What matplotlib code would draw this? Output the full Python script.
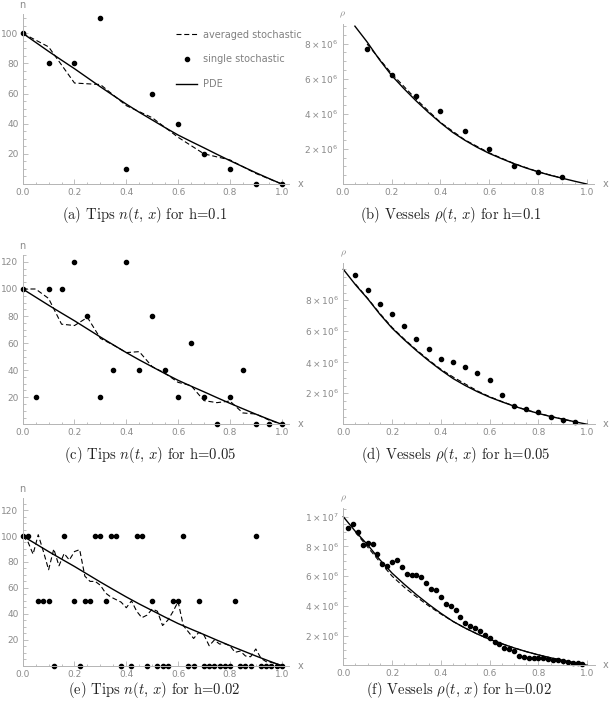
import matplotlib
matplotlib.use("Agg")
import matplotlib.pyplot as plt
from matplotlib.ticker import FixedLocator, FuncFormatter

plt.rcParams['mathtext.fontset'] = 'dejavusans'

# ---------------- data ----------------
pde_x = [0.0, 0.05, 0.1, 0.15, 0.2, 0.25, 0.3, 0.35, 0.4, 0.45, 0.5,
         0.55, 0.6, 0.65, 0.7, 0.75, 0.8, 0.85, 0.9, 0.95, 1.0]
pde_n = [100, 94, 88, 82.2, 76.5, 70.5, 64.5, 58.7, 53, 47.6, 42.5,
         37.4, 32.5, 28.2, 24, 19.7, 15.5, 11.5, 7.5, 3.7, 0]
pde_rho = [10.0e6, 9.0e6, 8.1e6, 7.1e6, 6.2e6, 5.45e6, 4.75e6, 4.1e6, 3.5e6, 2.95e6, 2.5e6,
           2.1e6, 1.75e6, 1.45e6, 1.17e6, 0.92e6, 0.7e6, 0.5e6, 0.33e6, 0.16e6, 0.0]

# (a) tips, h = 0.1
a_x = [0.0, 0.1, 0.2, 0.3, 0.4, 0.5, 0.6, 0.7, 0.8, 0.9, 1.0]
a_avg = [100, 91, 67, 66, 52, 44, 31, 20, 16, 7, 0]
a_single = [100, 80, 80, 110, 10, 60, 40, 20, 10, 0, 0]

# (b) vessels, h = 0.1
b_x = [0.1, 0.2, 0.3, 0.4, 0.5, 0.6, 0.7, 0.8, 0.9]
b_avg = [7.98e6, 6.3e6, 4.85e6, 3.52e6, 2.52e6, 1.78e6, 1.18e6, 0.7e6, 0.33e6]
b_single = [7.68e6, 6.23e6, 5.04e6, 4.16e6, 3.02e6, 1.98e6, 1.05e6, 0.67e6, 0.42e6]

# (c) tips, h = 0.05
c_x = [0.0, 0.05, 0.1, 0.15, 0.2, 0.25, 0.3, 0.35, 0.4, 0.45, 0.5,
       0.55, 0.6, 0.65, 0.7, 0.75, 0.8, 0.85, 0.9, 0.95, 1.0]
c_avg = [100, 100, 93, 74, 73, 79, 63.5, 58.6, 53, 53.7, 42.6,
         37.7, 31, 28.6, 17.5, 16, 17.2, 8.4, 7.6, 3.2, 0]
c_single = [100, 20, 100, 100, 120, 80, 20, 40, 120, 40, 80,
            40, 20, 60, 20, 0, 20, 40, 0, 0, 0]

# (d) vessels, h = 0.05
d_x = [0.05, 0.1, 0.15, 0.2, 0.25, 0.3, 0.35, 0.4, 0.45, 0.5,
       0.55, 0.6, 0.65, 0.7, 0.75, 0.8, 0.85, 0.9, 0.95]
d_avg = [9.05e6, 8.12e6, 7.15e6, 6.25e6, 5.5e6, 4.8e6, 4.15e6, 3.55e6, 3.05e6, 2.6e6,
         2.15e6, 1.78e6, 1.47e6, 1.18e6, 0.93e6, 0.71e6, 0.51e6, 0.33e6, 0.16e6]
d_single = [9.63e6, 8.65e6, 7.76e6, 7.10e6, 6.34e6, 5.53e6, 4.84e6, 4.22e6, 4.0e6, 3.72e6,
            3.31e6, 2.84e6, 1.89e6, 1.18e6, 0.99e6, 0.77e6, 0.45e6, 0.28e6, 0.15e6]

# (e) tips, h = 0.02
e_x = [0.00, 0.02, 0.04, 0.06, 0.08, 0.10, 0.12, 0.14, 0.16, 0.18,
       0.20, 0.22, 0.24, 0.26, 0.28, 0.30, 0.32, 0.34, 0.36, 0.38,
       0.40, 0.42, 0.44, 0.46, 0.48, 0.50, 0.52, 0.54, 0.56, 0.58,
       0.60, 0.62, 0.64, 0.66, 0.68, 0.70, 0.72, 0.74, 0.76, 0.78,
       0.80, 0.82, 0.84, 0.86, 0.88, 0.90, 0.92, 0.94, 0.96, 0.98, 1.00]
e_avg = [100, 95.6, 86, 101, 88, 74, 90, 77, 86.5, 81.5,
         88, 89.5, 69, 65, 65, 62, 56, 53, 51, 49,
         44.7, 50, 42, 37, 39, 43.7, 42, 31, 35, 41.6,
         49.4, 31, 26, 21, 25.7, 23.6, 15.4, 19.8, 16.7, 17,
         15.4, 10.3, 11.3, 7.5, 6.9, 12.9, 5.7, 3.1, 2.6, 1.5, 0]
e_single = [100, 100, 150, 50, 50, 50, 0, 150, 100, 150,
            50, 0, 50, 50, 100, 100, 50, 100, 100, 0,
            150, 0, 100, 100, 0, 50, 0, 0, 0, 50,
            50, 100, 0, 0, 50, 0, 0, 0, 0, 0,
            0, 50, 0, 0, 0, 100, 0, 0, 0, 0, 0]

# (f) vessels, h = 0.02
f_x = [0.02, 0.04, 0.06, 0.08, 0.10, 0.12, 0.14, 0.16, 0.18, 0.20,
       0.22, 0.24, 0.26, 0.28, 0.30, 0.32, 0.34, 0.36, 0.38, 0.40,
       0.42, 0.44, 0.46, 0.48, 0.50, 0.52, 0.54, 0.56, 0.58, 0.60,
       0.62, 0.64, 0.66, 0.68, 0.70, 0.72, 0.74, 0.76, 0.78, 0.80,
       0.82, 0.84, 0.86, 0.88, 0.90, 0.92, 0.94, 0.96, 0.98]
f_single = [9.25e6, 9.52e6, 8.96e6, 8.11e6, 8.25e6, 8.16e6, 7.46e6, 6.84e6, 6.70e6, 6.95e6,
            7.11e6, 6.59e6, 6.17e6, 6.06e6, 6.06e6, 5.97e6, 5.54e6, 5.12e6, 5.05e6, 4.58e6,
            4.13e6, 4.0e6, 3.69e6, 3.28e6, 2.88e6, 2.66e6, 2.50e6, 2.32e6, 2.06e6, 1.81e6,
            1.59e6, 1.41e6, 1.14e6, 1.07e6, 0.95e6, 0.61e6, 0.57e6, 0.52e6, 0.48e6, 0.48e6,
            0.52e6, 0.45e6, 0.39e6, 0.34e6, 0.27e6, 0.23e6, 0.18e6, 0.14e6, 0.09e6]
f_avg_x = [0.05, 0.1, 0.15, 0.2, 0.25, 0.3, 0.35, 0.4, 0.45, 0.5,
           0.55, 0.6, 0.65, 0.7, 0.75, 0.8, 0.85, 0.9, 0.95]
f_avg = [8.95e6, 7.95e6, 6.95e6, 6.0e6, 5.25e6, 4.6e6, 4.0e6, 3.45e6, 2.95e6, 2.5e6,
         2.1e6, 1.75e6, 1.45e6, 1.17e6, 0.92e6, 0.7e6, 0.5e6, 0.33e6, 0.16e6]

captions = [
    r'(a) Tips $n(t,\,x)$ for h=0.1',
    r'(b) Vessels $\rho(t,\,x)$ for h=0.1',
    r'(c) Tips $n(t,\,x)$ for h=0.05',
    r'(d) Vessels $\rho(t,\,x)$ for h=0.05',
    r'(e) Tips $n(t,\,x)$ for h=0.02',
    r'(f) Vessels $\rho(t,\,x)$ for h=0.02',
]

# ---------------- figure ----------------
W, H = 612, 710
fig = plt.figure(figsize=(W / 100, H / 100), dpi=100)

AX_COLOR = '#b4b4b4'
TXT_COLOR = '#8a8a8a'


def make_axes(px_x0, px_x1, px_y0, px_yref, yref, xlim, ylim):
    sx = px_x1 - px_x0
    sy = (px_y0 - px_yref) / yref
    left = px_x0 + xlim[0] * sx
    right = px_x0 + xlim[1] * sx
    bot = px_y0 - ylim[0] * sy
    top = px_y0 - ylim[1] * sy
    ax = fig.add_axes([left / W, (H - bot) / H, (right - left) / W, (bot - top) / H])
    ax.set_xlim(*xlim)
    ax.set_ylim(*ylim)
    for s in ('top', 'right'):
        ax.spines[s].set_visible(False)
    ax.spines['left'].set_position(('data', 0))
    ax.spines['bottom'].set_position(('data', 0))
    ax.spines['left'].set_bounds(0, ylim[1])
    ax.spines['bottom'].set_bounds(0, xlim[1])
    for s in ('left', 'bottom'):
        ax.spines[s].set_color(AX_COLOR)
        ax.spines[s].set_linewidth(0.7)
    ax.patch.set_visible(False)
    ax.xaxis.set_major_locator(FixedLocator([0.0, 0.2, 0.4, 0.6, 0.8, 1.0]))
    ax.xaxis.set_minor_locator(FixedLocator([i * 0.05 for i in range(21)]))
    ax.xaxis.set_major_formatter(FuncFormatter(lambda v, p: '%.1f' % v))
    ax.tick_params(which='both', direction='in', color=AX_COLOR, width=0.6,
                   labelcolor=TXT_COLOR, labelsize=6.5)
    ax.tick_params(which='major', length=3.5, pad=3)
    ax.tick_params(which='minor', length=1.8)
    ax.annotate('x', xy=(xlim[1], 0), xytext=(6, 0), textcoords='offset points',
                ha='left', va='center', color=TXT_COLOR, fontsize=7)
    return ax


def sci(v, p):
    if v <= 0:
        return ''
    e = 6 if v < 9.5e6 else 7
    m = v / 10 ** e
    return r'$%d\times10^{%d}$' % (round(m), e)


def draw(ax, xs, avg, single, px, py, avg_x=None):
    if avg_x is None:
        avg_x = xs
    l1, = ax.plot(avg_x, avg, color='k', lw=0.8, ls=(0, (4.5, 2.5)))
    l2, = ax.plot(xs, single, 'o', color='k', ms=3.0, mec='k')
    l3, = ax.plot(px, py, color='k', lw=1.0)
    return l1, l2, l3


def tips_axes(ax, ytop, majors):
    ax.yaxis.set_major_locator(FixedLocator(majors))
    ax.yaxis.set_minor_locator(FixedLocator(list(range(0, int(ytop) + 1, 5))))
    ax.yaxis.set_major_formatter(FuncFormatter(lambda v, p: '%d' % v))
    ax.annotate('n', xy=(0, ytop), xytext=(0, 3), textcoords='offset points',
                ha='center', va='bottom', color=TXT_COLOR, fontsize=7)


def vessel_axes(ax, ytop, majors):
    ax.yaxis.set_major_locator(FixedLocator(majors))
    ax.yaxis.set_minor_locator(FixedLocator([i * 0.5e6 for i in range(int(ytop / 0.5e6) + 1)]))
    ax.yaxis.set_major_formatter(FuncFormatter(sci))
    ax.annotate(r'$\rho$', xy=(0, ytop), xytext=(0, 3), textcoords='offset points',
                ha='center', va='bottom', color=TXT_COLOR, fontsize=7,
                math_fontfamily='cm')


XL = (-0.025, 1.03)

# (a)
ax = make_axes(22.7, 281.7, 184, 33.3, 100, XL, (-4, 113))
la = draw(ax, a_x, a_avg, a_single, pde_x, pde_n)
tips_axes(ax, 113, [20, 40, 60, 80, 100])
ax.legend(list(la), ['averaged stochastic', 'single stochastic', 'PDE'],
          loc='upper left', bbox_to_anchor=(172 / W, 1 - 26 / H), bbox_transform=fig.transFigure,
          frameon=False, fontsize=7, labelcolor='#808080', handlelength=2.2,
          labelspacing=1.5, handletextpad=0.6, borderaxespad=0)

# (b)
ax = make_axes(342.7, 586.7, 184, 43.7, 8e6, XL, (-0.35e6, 9.1e6))
draw(ax, b_x, b_avg, b_single, pde_x[1:], pde_rho[1:])
vessel_axes(ax, 9.1e6, [2e6, 4e6, 6e6, 8e6])

# (c)
ax = make_axes(22.7, 281.7, 424.3, 289, 100, XL, (-4, 125))
draw(ax, c_x, c_avg, c_single, pde_x, pde_n)
tips_axes(ax, 125, [20, 40, 60, 80, 100, 120])

# (d)
ax = make_axes(343.3, 587.3, 424.3, 300.3, 8e6, XL, (-0.35e6, 10.4e6))
draw(ax, d_x, d_avg, d_single, pde_x, pde_rho)
vessel_axes(ax, 10.4e6, [2e6, 4e6, 6e6, 8e6])

# (e)
ax = make_axes(22.7, 281.7, 665.7, 536, 100, XL, (-4, 129))
draw(ax, e_x, e_avg, e_single, pde_x, pde_n)
tips_axes(ax, 129, [20, 40, 60, 80, 100, 120])

# (f)
ax = make_axes(343.3, 587.3, 665.3, 516.7, 1e7, XL, (-0.35e6, 10.6e6))
draw(ax, f_x, f_avg, f_single, pde_x, pde_rho, avg_x=f_avg_x)
vessel_axes(ax, 10.6e6, [2e6, 4e6, 6e6, 8e6, 1e7])

# captions
cap_pos = [(145, 215), (451, 215), (150, 455), (456, 455), (154, 690), (459, 690)]
for (cx, cy), t in zip(cap_pos, captions):
    fig.text(cx / W, 1 - cy / H, t, ha='center', va='center', fontsize=10.5,
             family='cmr10', color='#222222', math_fontfamily='cm')

fig.savefig('out.png', dpi=100)
